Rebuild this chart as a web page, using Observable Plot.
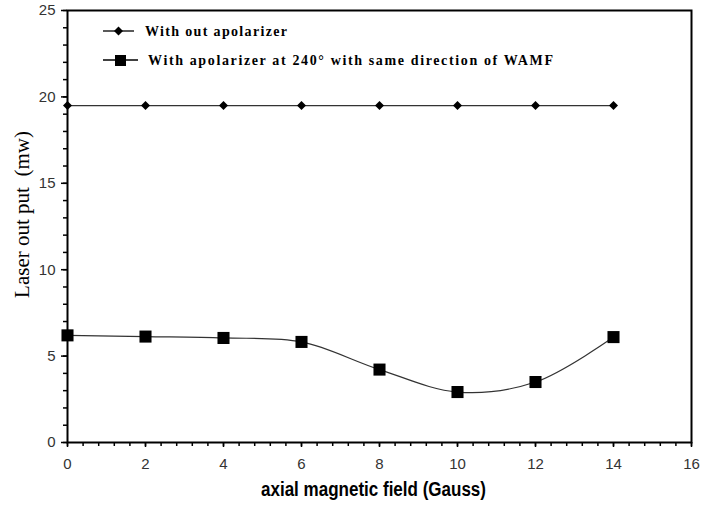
<!DOCTYPE html>
<html><head><meta charset="utf-8">
<script src="https://cdn.jsdelivr.net/npm/d3@7"></script>
<script src="https://cdn.jsdelivr.net/npm/@observablehq/plot@0.6"></script>
<style>
body{margin:0;background:#fff}
#chart{position:relative;width:703px;height:510px}
</style>
</head><body><div id="chart"></div>
<script>
const field = [0, 2, 4, 6, 8, 10, 12, 14];
const withoutPolarizer = [19.5, 19.5, 19.5, 19.5, 19.5, 19.5, 19.5, 19.5];
const withPolarizer = [6.2, 6.13, 6.05, 5.82, 4.22, 2.92, 3.5, 6.1];
const xTicks = [0, 2, 4, 6, 8, 10, 12, 14, 16];
const yTicks = [0, 5, 10, 15, 20, 25];
const seriesNames = ["With out apolarizer", "With apolarizer at 240\u00b0 with same direction of WAMF"];
const xLabel = "axial magnetic field (Gauss)";
const yLabel = "Laser out put  (mw)";

const xMinor = d3.range(0, 80.5, 2).map(d => d / 5);
const yMinor = d3.range(0, 26, 1);

const data1 = field.map((f, i) => ({x: f, y: withoutPolarizer[i]}));
const data2 = field.map((f, i) => ({x: f, y: withPolarizer[i]}));

const tickFont = "'Liberation Sans', Arial, sans-serif";
const serif = "'Liberation Serif', 'Times New Roman', serif";

const plot = Plot.plot({
  width: 703,
  height: 510,
  marginLeft: 67,
  marginRight: 12,
  marginTop: 10,
  marginBottom: 68,
  style: {background: "#fff", color: "#000"},
  x: {domain: [0, 16]},
  y: {domain: [0, 25]},
  marks: [
    Plot.axisX({ticks: xMinor, tickSize: 4, text: null, label: null}),
    Plot.axisX({ticks: xTicks, tickSize: 5, tickPadding: 11, label: null, fontSize: 15, fontFamily: tickFont}),
    Plot.axisY({ticks: yMinor, tickSize: 4, text: null, label: null}),
    Plot.axisY({ticks: yTicks, tickSize: 6, tickPadding: 6, label: null, fontSize: 15, fontFamily: tickFont}),
    Plot.frame({stroke: "#000", strokeWidth: 2}),
    Plot.line(data1, {x: "x", y: "y", stroke: "#333", strokeWidth: 1.2}),
    Plot.dot(data1, {x: "x", y: "y", symbol: "square", r: 3.6, rotate: 45, fill: "#000"}),
    Plot.line(data2, {x: "x", y: "y", stroke: "#333", strokeWidth: 1.2, curve: "catmull-rom"}),
    Plot.dot(data2, {x: "x", y: "y", symbol: "square", r: 6.8, fill: "#000"}),
    Plot.text([yLabel], {frameAnchor: "left", textAnchor: "middle", dx: -45, dy: -12, rotate: -90, fontSize: 21, fontFamily: serif, fill: "#000"}),
    Plot.text([xLabel], {frameAnchor: "bottom", dx: -6, dy: 53, fontSize: 20, fontWeight: "bold", fontFamily: tickFont, fill: "#000"})
  ]
});

document.getElementById("chart").appendChild(plot);
const svg = d3.select(plot);

// tick label colour and tick weight
svg.selectAll("g[aria-label='x-axis tick label'] text, g[aria-label='y-axis tick label'] text").attr("fill", "#333");
svg.selectAll("g[aria-label='x-axis tick'], g[aria-label='y-axis tick']").attr("stroke-width", 1.5).attr("stroke", "#000");

// condense the x axis title to the reference width
svg.selectAll("g[aria-label='text'] text").each(function() {
  if (this.textContent === xLabel) { this.setAttribute("textLength", 225); this.setAttribute("lengthAdjust", "spacingAndGlyphs"); }
});

// Legend inside the plot area
const lg = svg.append("g").attr("text-anchor", "start");
lg.append("line").attr("x1", 103).attr("x2", 134).attr("y1", 31).attr("y2", 31).attr("stroke", "#000").attr("stroke-width", 1.3);
lg.append("path").attr("d", d3.symbol(d3.symbolSquare, 40)()).attr("transform", "translate(118.5,31) rotate(45)").attr("fill", "#000");
lg.append("text").attr("x", 145).attr("y", 31).attr("dy", "0.35em").text(seriesNames[0])
  .attr("font-family", serif).attr("font-weight", "bold").attr("font-size", 14)
  .attr("textLength", 142).attr("lengthAdjust", "spacing");
lg.append("line").attr("x1", 103).attr("x2", 138).attr("y1", 60).attr("y2", 60).attr("stroke", "#000").attr("stroke-width", 1.3);
lg.append("rect").attr("x", 115).attr("y", 55).attr("width", 11).attr("height", 11).attr("fill", "#000");
lg.append("text").attr("x", 148).attr("y", 60).attr("dy", "0.35em").text(seriesNames[1])
  .attr("font-family", serif).attr("font-weight", "bold").attr("font-size", 14)
  .attr("textLength", 405).attr("lengthAdjust", "spacing");
</script>
</body></html>
